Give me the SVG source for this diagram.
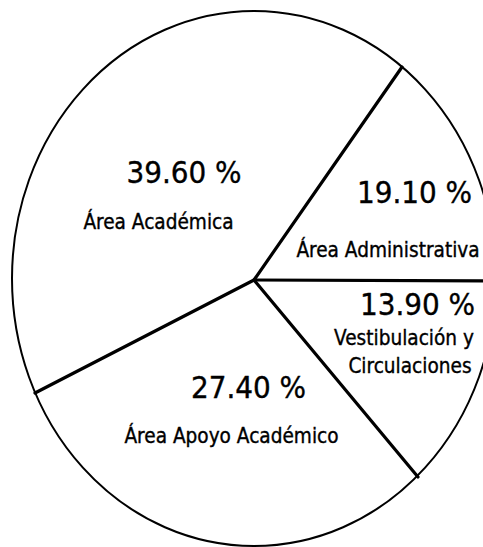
<svg xmlns="http://www.w3.org/2000/svg" width="483" height="547" viewBox="0 0 483 547">
  <style>
    .outline { fill: #ffffff; stroke: #000000; stroke-width: 2; }
    .radius { stroke: #000000; stroke-width: 3.2; stroke-linecap: round; fill: none; }
    .pct { font-family: "DejaVu Sans Condensed", "DejaVu Sans", sans-serif; font-size: 31px; fill: #000000; stroke: #000000; stroke-width: 0.35; text-anchor: middle; }
    .lbl { font-family: "DejaVu Sans Condensed", "DejaVu Sans", sans-serif; font-size: 20.6px; fill: #000000; stroke: #000000; stroke-width: 0.35; text-anchor: middle; }
  </style>
  <rect x="0" y="0" width="483" height="547" fill="#ffffff"/>
  <g id="pie-outline">
    <ellipse class="outline" cx="254" cy="278.5" rx="242" ry="267.5"/>
  </g>
  <g id="connectors">
    <line class="radius" x1="254" y1="280" x2="402" y2="67"/>
    <line class="radius" x1="254" y1="280" x2="500" y2="281"/>
    <line class="radius" x1="254" y1="280" x2="418" y2="477"/>
    <line class="radius" x1="254" y1="280" x2="35" y2="393"/>
  </g>
  <g id="area-academica">
    <text class="pct" x="184" y="183">39.60 %</text>
    <text class="lbl" x="158.5" y="229">Área Académica</text>
  </g>
  <g id="area-administrativa">
    <text class="pct" x="414.5" y="203">19.10 %</text>
    <text class="lbl" x="388" y="257">Área Administrativa</text>
  </g>
  <g id="vestibulacion">
    <text class="pct" x="417.5" y="315">13.90 %</text>
    <text class="lbl" x="404" y="345">Vestibulación y</text>
    <text class="lbl" x="410" y="373">Circulaciones</text>
  </g>
  <g id="area-apoyo">
    <text class="pct" x="248.5" y="398">27.40 %</text>
    <text class="lbl" x="231.5" y="443">Área Apoyo Académico</text>
  </g>
</svg>
